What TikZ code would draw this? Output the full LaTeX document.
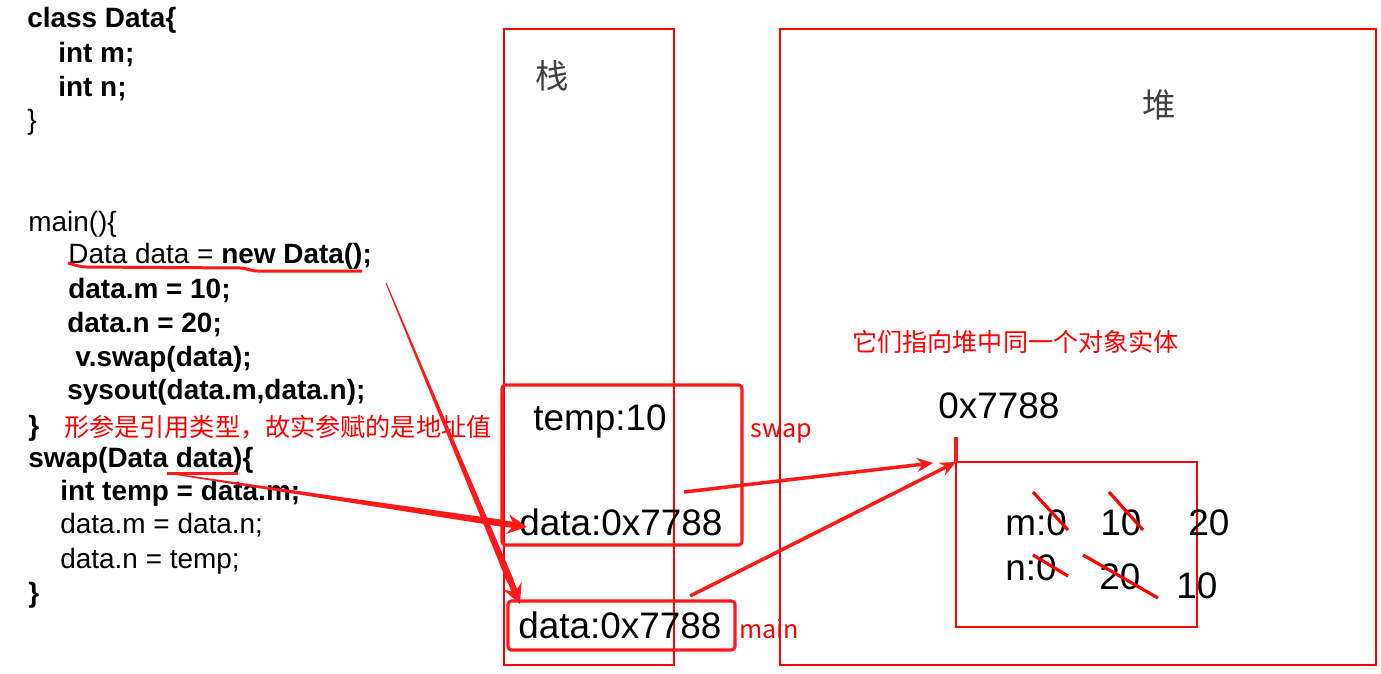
\documentclass[tikz,border=0pt]{standalone}
\usepackage{fontspec}
\setmainfont{Liberation Sans}
\newfontfamily\cjk{Noto Sans CJK SC}
\usepackage{tikz}
\usetikzlibrary{calc,arrows.meta,positioning}
\definecolor{labelgray}{RGB}{64,64,64}
\definecolor{memred}{RGB}{255,25,25}
\newcommand{\codesize}{\fontsize{15.9}{19}\selectfont}
\newcommand{\valsize}{\fontsize{21}{25}\selectfont}
\newcommand{\notesize}{\fontsize{14.3}{17}\selectfont}
% tapered red arrow from #1 to #2
\newcommand{\taperarrow}[2]{%
  \coordinate (tp) at ($(#1)!0.93!(#2)$);
  \fill[memred] ($(#1)!0.3pt!90:(#2)$) -- ($(tp)!2pt!90:(#2)$) -- ($(tp)!2pt!-90:(#2)$) -- ($(#1)!0.3pt!-90:(#2)$) -- cycle;
  \draw[memred,line width=3.5pt,-{Stealth[length=11pt,width=11pt]}] ($(#1)!0.9!(#2)$) -- (#2);}

\begin{document}
\begin{tikzpicture}[x=0.02cm,y=-0.02cm,
  code/.style={anchor=base west,inner sep=0pt,font=\codesize},
  val/.style={anchor=base west,inner sep=0pt,font=\valsize},
  note/.style={anchor=west,inner sep=0pt,text=red,font=\cjk\notesize},
  area/.style={draw=red,line width=0.8pt},
  frame/.style={draw=memred,line width=1.8pt,rounded corners=2pt},
  ptr/.style={draw=memred,line width=2pt,-{Stealth[length=9pt,width=8pt]}},
  cross/.style={draw=red,line width=1.8pt}]
	\useasboundingbox (0,0) rectangle (1381,673);
	% code
	\node[code] (cls) at (27,27) {\bfseries class Data\{};
	\node[code] (clsm) at (58,62) {\bfseries int m;};
	\node[code] (clsn) at (58,96) {\bfseries int n;};
	\node[code] (clsend) at (27,129) {\}};
	\node[code] (mainhd) at (28,231) {main()\{};
	\node[code] (newdata) at (68,263) {Data data = \textbf{new Data();}};
	\node[code] (setm) at (68,298) {\bfseries data.m = 10;};
	\node[code] (setn) at (67,332) {\bfseries data.n = 20;};
	\node[code] (callswap) at (75,366) {\bfseries v.swap(data);};
	\node[code] (sysout) at (67,399) {\bfseries sysout(data.m,data.n);};
	\node[code] (mainend) at (28,435) {\bfseries \}};
	\node[code] (swaphd) at (28,467) {\bfseries swap(Data data)\{};
	\node[code] (tmp) at (60,500) {\bfseries int temp = data.m;};
	\node[code] (mset) at (60,533) {data.m = data.n;};
	\node[code] (nset) at (60,568) {data.n = temp;};
	\node[code] (swapend) at (28,602) {\bfseries \}};
	\node[note] (refnote) at (64,427) {形参是引用类型，故实参赋的是地址值};
	% underlines
	\draw[memred,line width=1.7pt,rounded corners=3pt] (68,263) -- (82,267) -- (245,268) -- (252,271) -- (362,271);
	\draw[memred,line width=1.7pt] (167,473) -- (238,473);
	% stack
	\draw[area] (504,29) rectangle (674,665);
	\node[font=\cjk\fontsize{19}{22}\selectfont,text=labelgray] (stk) at (552,76) {栈};
	\draw[frame] (502,385) rectangle (742,545);
	\draw[frame] (508,601) rectangle (735,650);
	\node[val] (temp) at (533,430) {temp:10};
	\node[val] (swapdata) at (519,535) {data:0x7788};
	\node[val] (maindata) at (518,638) {data:0x7788};
	\node[note,anchor=base west] (swaplbl) at (750,437) {swap};
	\node[note,anchor=base west] (mainlbl) at (739,638) {main};
	% heap
	\draw[area] (780,29) rectangle (1376,665);
	\node[font=\cjk\fontsize{19}{22}\selectfont,text=labelgray] (hp) at (1159,105) {堆};
	\node[note] (samenote) at (852,342) {它们指向堆中同一个对象实体};
	\node[val] (addr) at (938,418) {0x7788};
	\coordinate (obj) at (956,462);
	\draw[area] (obj) rectangle (1197,627);
	\draw[memred,line width=2pt] (956,437) -- (obj);
	\node[val] (m0) at (1005,535) {m:0};
	\node[val] (m10) at (1100,535) {10};
	\node[val] (m20) at (1188,535) {20};
	\node[val] (n0) at (1005,580) {n:0};
	\node[val] (n20) at (1099,589) {20};
	\node[val] (n10) at (1176,598) {10};
	\draw[cross] (1033,492) -- (1068,530);
	\draw[cross] (1109,492) -- (1143,530);
	\draw[cross] (1033,555) -- (1068,576);
	\draw[cross] (1083,555) -- (1158,598);
	% pointers
	\coordinate (swapout) at (684,492);
	\coordinate (mainout) at (690,596);
	\coordinate (objin) at (933,463);
	\draw[ptr] (swapout) -- (objin);
	\draw[ptr] (mainout) -- (obj);
	\coordinate (newref) at (386,283);
	\coordinate (swapref) at (167,473);
	\coordinate (swapin) at (527,527);
	\coordinate (mainin) at (520,604);
	\taperarrow{newref}{mainin}
	\taperarrow{swapref}{swapin}
\end{tikzpicture}
\end{document}
